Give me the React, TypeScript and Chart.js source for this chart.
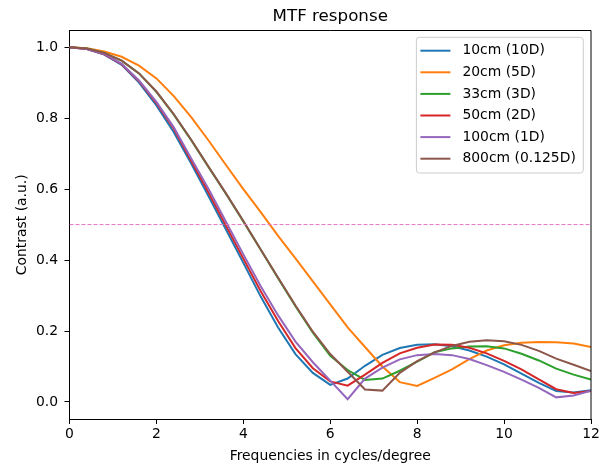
import React, { useEffect, useRef } from "react";
import { Chart, registerables } from "chart.js";

Chart.register(...registerables);

// ---- data ----
const frequencies = [
  0, 0.4, 0.8, 1.2, 1.6, 2.0, 2.4, 2.8, 3.2, 3.6, 4.0, 4.4, 4.8, 5.2, 5.6, 6.0,
  6.4, 6.8, 7.2, 7.6, 8.0, 8.4, 8.8, 9.2, 9.6, 10.0, 10.4, 10.8, 11.2, 11.6, 12.0,
];

const seriesLabels = [
  "10cm (10D)",
  "20cm (5D)",
  "33cm (3D)",
  "50cm (2D)",
  "100cm (1D)",
  "800cm (0.125D)",
];

const mtf10cm = [
  1.0, 0.995, 0.979, 0.95, 0.9, 0.836, 0.76, 0.672, 0.58, 0.486, 0.392,
  0.297, 0.21, 0.135, 0.082, 0.048, 0.066, 0.102, 0.133, 0.152, 0.161, 0.163,
  0.157, 0.145, 0.128, 0.106, 0.08, 0.054, 0.031, 0.027, 0.033,
];
const mtf20cm = [
  1.0, 0.997, 0.988, 0.973, 0.948, 0.912, 0.862, 0.803, 0.737, 0.668, 0.6, 0.535,
  0.468, 0.405, 0.34, 0.275, 0.21, 0.155, 0.1, 0.056, 0.045, 0.068, 0.092,
  0.121, 0.145, 0.16, 0.167, 0.169, 0.168, 0.165, 0.155,
];
const mtf33cm = [
  1.0, 0.996, 0.984, 0.962, 0.926, 0.874, 0.81, 0.738, 0.662, 0.587, 0.509, 0.429,
  0.349, 0.27, 0.195, 0.13, 0.09, 0.062, 0.066, 0.088, 0.114, 0.14, 0.151,
  0.156, 0.157, 0.151, 0.136, 0.117, 0.094, 0.077, 0.063,
];
const mtf50cm = [
  1.0, 0.995, 0.98, 0.952, 0.904, 0.842, 0.77, 0.68, 0.59, 0.497, 0.404, 0.312,
  0.228, 0.152, 0.095, 0.058, 0.046, 0.077, 0.11, 0.137, 0.153, 0.162, 0.161,
  0.153, 0.137, 0.116, 0.092, 0.064, 0.036, 0.025, 0.031,
];
const mtf100cm = [
  1.0, 0.995, 0.981, 0.953, 0.906, 0.846, 0.774, 0.686, 0.6, 0.508, 0.416, 0.326,
  0.244, 0.17, 0.112, 0.06, 0.008, 0.066, 0.097, 0.12, 0.132, 0.135, 0.132,
  0.121, 0.104, 0.085, 0.063, 0.04, 0.013, 0.018, 0.032,
];
const mtf800cm = [
  1.0, 0.996, 0.984, 0.962, 0.926, 0.875, 0.811, 0.739, 0.663, 0.588, 0.51, 0.43,
  0.35, 0.272, 0.198, 0.135, 0.085, 0.035, 0.032, 0.082, 0.115, 0.14, 0.158,
  0.17, 0.174, 0.171, 0.161, 0.144, 0.122, 0.105, 0.087,
];

const thresholdLevel = 0.5;
const xTickStep = 2;
const yTickStep = 0.2;

const titleText = "MTF response";
const xAxisLabel = "Frequencies in cycles/degree";
const yAxisLabel = "Contrast (a.u.)";

// ---- styles ----
const seriesColors = ["#1f77b4", "#ff7f0e", "#2ca02c", "#d62728", "#9467bd", "#8c564b"];
const thresholdColor = "#e377c2";
const FONT = "'DejaVu Sans', sans-serif";
const FS = 13.9;

export default function App() {
  const ref = useRef<HTMLCanvasElement>(null);

  useEffect(() => {
    const canvas = ref.current;
    if (!canvas) return;
    const allSeries = [mtf10cm, mtf20cm, mtf33cm, mtf50cm, mtf100cm, mtf800cm];
    const datasets: any[] = allSeries.map((vals, i) => ({
      label: seriesLabels[i],
      data: frequencies.map((f, j) => ({ x: f, y: vals[j] })),
      borderColor: seriesColors[i],
      backgroundColor: seriesColors[i],
      borderWidth: 2,
      pointRadius: 0,
      tension: 0,
      fill: false,
      order: allSeries.length - i + 1,
    }));
    datasets.push({
      label: "threshold",
      data: [
        { x: frequencies[0], y: thresholdLevel },
        { x: frequencies[frequencies.length - 1], y: thresholdLevel },
      ],
      borderColor: thresholdColor,
      borderWidth: 1,
      borderDash: [4, 2],
      pointRadius: 0,
      fill: false,
      order: 0,
    });

    const decor = {
      id: "mplDecor",
      afterDraw(chart: any) {
        const { ctx, chartArea: a } = chart;
        ctx.save();
        // top & right spines
        ctx.strokeStyle = "#000";
        ctx.lineWidth = 1;
        ctx.beginPath();
        ctx.moveTo(a.left, a.top);
        ctx.lineTo(a.right, a.top);
        ctx.lineTo(a.right, a.bottom);
        ctx.stroke();

        // title
        ctx.fillStyle = "#000";
        ctx.font = `16.7px ${FONT}`;
        ctx.textAlign = "center";
        ctx.textBaseline = "alphabetic";
        ctx.fillText(titleText, (a.left + a.right) / 2, a.top - 9.5);

        // legend
        ctx.font = `${FS}px ${FONT}`;
        const widths = seriesLabels.map((l) => ctx.measureText(l).width);
        const boxW = 44.5 + Math.max(...widths) + 9;
        const rowH = 21.6;
        const boxH = 13.4 + rowH * (seriesLabels.length - 1) + 14.3;
        const right = a.right - 7.7;
        const top = a.top + 6.8;
        const left = right - boxW;
        const r = 3;
        ctx.beginPath();
        ctx.moveTo(left + r, top);
        ctx.lineTo(right - r, top);
        ctx.quadraticCurveTo(right, top, right, top + r);
        ctx.lineTo(right, top + boxH - r);
        ctx.quadraticCurveTo(right, top + boxH, right - r, top + boxH);
        ctx.lineTo(left + r, top + boxH);
        ctx.quadraticCurveTo(left, top + boxH, left, top + boxH - r);
        ctx.lineTo(left, top + r);
        ctx.quadraticCurveTo(left, top, left + r, top);
        ctx.closePath();
        ctx.fillStyle = "rgba(255,255,255,0.8)";
        ctx.fill();
        ctx.strokeStyle = "#cccccc";
        ctx.lineWidth = 1;
        ctx.stroke();

        ctx.textAlign = "left";
        ctx.textBaseline = "middle";
        seriesLabels.forEach((label, i) => {
          const y = top + 13.4 + i * rowH;
          ctx.strokeStyle = seriesColors[i];
          ctx.lineWidth = 2;
          ctx.beginPath();
          ctx.moveTo(left + 4, y);
          ctx.lineTo(left + 34, y);
          ctx.stroke();
          ctx.fillStyle = "#000";
          ctx.fillText(label, left + 46, y);
        });
        ctx.restore();
      },
    };

    const tickFont = { family: FONT, size: FS };
    const chart = new Chart(canvas, {
      type: "line",
      data: { datasets },
      options: {
        animation: false,
        responsive: true,
        maintainAspectRatio: false,
        layout: { padding: { top: 30.5, right: 15, left: 0, bottom: 0 } },
        plugins: {
          legend: { display: false },
          tooltip: { enabled: false },
          title: { display: false },
        },
        scales: {
          x: {
            type: "linear",
            min: 0,
            max: 12,
            ticks: {
              stepSize: xTickStep,
              includeBounds: false,
              font: tickFont,
              color: "#000",
              padding: 2,
              maxRotation: 0,
              callback: (v: any) => String(Math.round(Number(v))),
            },
            grid: {
              display: true,
              drawOnChartArea: false,
              drawTicks: true,
              tickLength: 5,
              color: "#000",
            },
            border: { display: true, color: "#000", width: 1 },
            title: {
              display: true,
              text: xAxisLabel,
              font: tickFont,
              color: "#000",
              padding: { top: 0, bottom: 1 },
            },
            afterFit: (s: any) => {
              s.height = 47;
            },
          },
          y: {
            type: "linear",
            min: -0.048,
            max: 1.047,
            ticks: {
              stepSize: yTickStep,
              includeBounds: false,
              font: tickFont,
              color: "#000",
              padding: 6.5,
              callback: (v: any) => (Math.abs(Number(v)) < 1e-9 ? 0 : Number(v)).toFixed(1),
            },
            grid: {
              display: true,
              drawOnChartArea: false,
              drawTicks: true,
              tickLength: 5,
              color: "#000",
            },
            border: { display: true, color: "#000", width: 1 },
            title: {
              display: true,
              text: yAxisLabel,
              font: tickFont,
              color: "#000",
              padding: { top: 13.6, bottom: 0 },
            },
            afterFit: (s: any) => {
              s.width = 69.5;
            },
          },
        },
      } as any,
      plugins: [decor],
    });
    return () => chart.destroy();
  }, []);

  return (
    <div
      style={{
        position: "fixed",
        left: 0,
        top: 0,
        width: 606,
        height: 466,
        background: "#fff",
      }}
    >
      <canvas ref={ref} />
    </div>
  );
}
